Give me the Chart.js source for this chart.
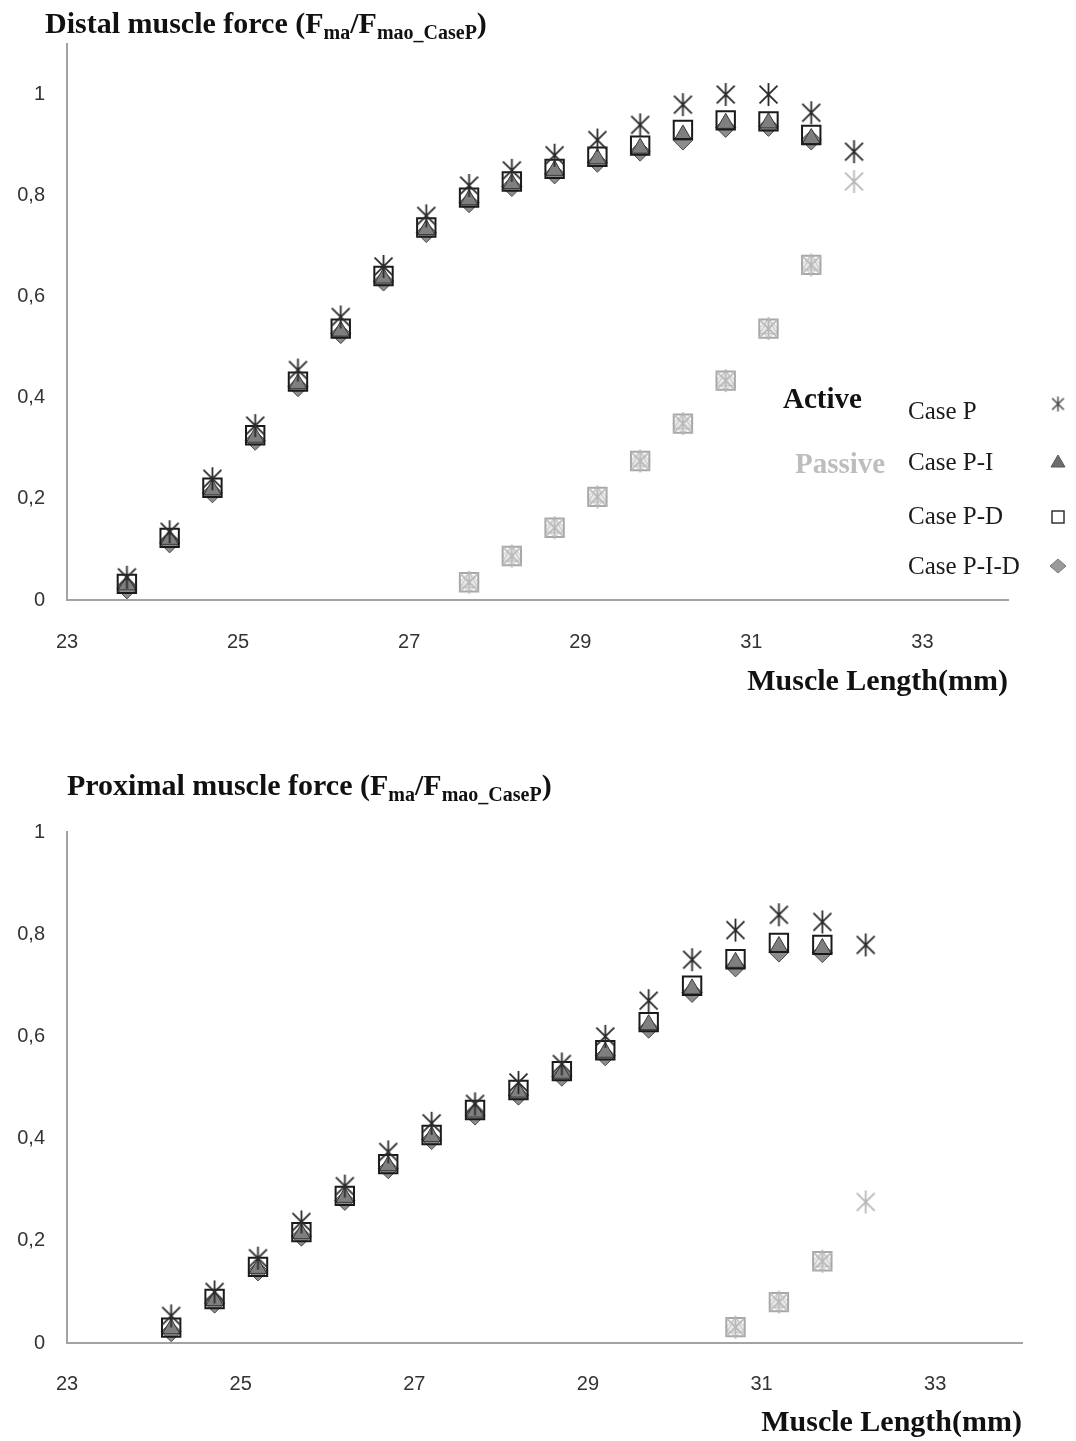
<!DOCTYPE html>
<html>
<head>
<meta charset="utf-8">
<script src="https://cdn.jsdelivr.net/npm/chart.js@4.4.1/dist/chart.umd.min.js"></script>
<style>
  body { margin: 0; background: #fff; }
  #wrap { position: relative; width: 1076px; height: 1441px; }
  .box { position: absolute; left: 0; width: 1076px; }
  .ttl {
    position: absolute; white-space: nowrap; color: #111;
    font-family: "Liberation Serif", serif; font-weight: bold; font-size: 30px; line-height: 32px;
  }
  .ttl sub { font-size: 20px; vertical-align: -6px; line-height: 0; }
</style>
</head>
<body>
<div id="wrap">
  <div class="box" style="top:0;height:720px"><canvas id="chartTop" width="1076" height="720"></canvas></div>
  <div class="box" style="top:720px;height:721px"><canvas id="chartBottom" width="1076" height="721"></canvas></div>
  <div class="ttl" style="left:45px;top:7px">Distal muscle force (F<sub>ma</sub>/F<sub>mao_CaseP</sub>)</div>
  <div class="ttl" style="left:67px;top:769px">Proximal muscle force (F<sub>ma</sub>/F<sub>mao_CaseP</sub>)</div>
</div>
<script>
// muscle length (mm)
var xTop = [23.7, 24.2, 24.7, 25.2, 25.7, 26.2, 26.7, 27.2, 27.7, 28.2, 28.7, 29.2, 29.7, 30.2, 30.7, 31.2, 31.7, 32.2];
var xTopPassive = [27.7, 28.2, 28.7, 29.2, 29.7, 30.2, 30.7, 31.2, 31.7, 32.2];
var xBottom = [24.2, 24.7, 25.2, 25.7, 26.2, 26.7, 27.2, 27.7, 28.2, 28.7, 29.2, 29.7, 30.2, 30.7, 31.2, 31.7, 32.2];
var xBottomPassive = [30.7, 31.2, 31.7, 32.2];

// distal - active
var topCaseP   = [0.045, 0.135, 0.24, 0.345, 0.455, 0.56, 0.66, 0.76, 0.82, 0.85, 0.88, 0.91, 0.94, 0.98, 1.0, 1.0, 0.964, 0.887];
var topCasePI  = [0.03, 0.12, 0.218, 0.322, 0.428, 0.532, 0.637, 0.733, 0.792, 0.824, 0.85, 0.873, 0.894, 0.92, 0.943, 0.944, 0.913];
var topCasePD  = [0.032, 0.123, 0.222, 0.326, 0.432, 0.537, 0.641, 0.737, 0.796, 0.828, 0.853, 0.877, 0.899, 0.93, 0.949, 0.947, 0.92];
var topCasePID = [0.022, 0.113, 0.212, 0.316, 0.422, 0.527, 0.631, 0.727, 0.786, 0.818, 0.843, 0.866, 0.888, 0.91, 0.935, 0.937, 0.91];
// distal - passive
var topPassiveP     = [0.035, 0.087, 0.143, 0.204, 0.275, 0.349, 0.434, 0.537, 0.663, 0.828];
var topPassiveOther = [0.035, 0.087, 0.143, 0.204, 0.275, 0.349, 0.434, 0.537, 0.663];

// proximal - active
var botCaseP   = [0.053, 0.10, 0.166, 0.237, 0.307, 0.374, 0.43, 0.468, 0.51, 0.546, 0.60, 0.67, 0.75, 0.808, 0.838, 0.824, 0.779];
var botCasePI  = [0.028, 0.083, 0.146, 0.214, 0.285, 0.347, 0.404, 0.452, 0.491, 0.528, 0.569, 0.623, 0.693, 0.745, 0.776, 0.772];
var botCasePD  = [0.03, 0.086, 0.149, 0.217, 0.288, 0.35, 0.407, 0.456, 0.495, 0.532, 0.573, 0.628, 0.699, 0.751, 0.783, 0.779];
var botCasePID = [0.022, 0.078, 0.141, 0.209, 0.279, 0.341, 0.398, 0.446, 0.485, 0.522, 0.562, 0.616, 0.686, 0.736, 0.765, 0.764];
// proximal - passive
var botPassiveP     = [0.031, 0.08, 0.16, 0.276];
var botPassiveOther = [0.031, 0.08, 0.16];

var xTicks = [23, 25, 27, 29, 31, 33];
var yTicks = [0, 0.2, 0.4, 0.6, 0.8, 1];
var caseLabels = ['Case P', 'Case P-I', 'Case P-D', 'Case P-I-D'];

// asterisk marker (excel style: vertical bar + X)
function makeStar(size, color, lw) {
  var c = document.createElement('canvas');
  c.width = c.height = size;
  var g = c.getContext('2d');
  var m = size / 2, r = size / 2 - 1, d = r * 0.78;
  g.strokeStyle = color;
  g.lineWidth = lw;
  g.beginPath();
  g.moveTo(m, m - r); g.lineTo(m, m + r);
  g.moveTo(m - d, m - d); g.lineTo(m + d, m + d);
  g.moveTo(m + d, m - d); g.lineTo(m - d, m + d);
  g.stroke();
  return c;
}
var starDark = makeStar(25, '#2b2b2b', 1.8);
var starLight = makeStar(25, '#b8b8b8', 1.8);
var starLegend = makeStar(17, '#444', 1.4);

var styles = {
  P:   { pointStyle: starDark, pointBackgroundColor: '#333', pointBorderColor: '#333', pointBorderWidth: 0, pointRadius: 12, order: 1 },
  PD:  { pointStyle: 'rect', pointBackgroundColor: 'rgba(255,255,255,0)', pointBorderColor: '#1a1a1a', pointBorderWidth: 2, pointRadius: 13, order: 2 },
  PI:  { pointStyle: 'triangle', pointBackgroundColor: '#7f7f7f', pointBorderColor: '#3a3a3a', pointBorderWidth: 1, pointRadius: 10, order: 3 },
  PID: { pointStyle: 'rectRot', pointBackgroundColor: '#8c8c8c', pointBorderColor: '#4a4a4a', pointBorderWidth: 1, pointRadius: 10, order: 4 },
  pP:   { pointStyle: starLight, pointBackgroundColor: '#bbb', pointBorderColor: '#bbb', pointBorderWidth: 0, pointRadius: 12, order: 5 },
  pPD:  { pointStyle: 'rect', pointBackgroundColor: 'rgba(255,255,255,0)', pointBorderColor: '#a8a8a8', pointBorderWidth: 2, pointRadius: 13, order: 6 },
  pPI:  { pointStyle: 'triangle', pointBackgroundColor: 'rgba(230,230,230,0.6)', pointBorderColor: '#c2c2c2', pointBorderWidth: 1, pointRadius: 10, order: 7 },
  pPID: { pointStyle: 'rectRot', pointBackgroundColor: 'rgba(220,220,220,0.6)', pointBorderColor: '#c8c8c8', pointBorderWidth: 1, pointRadius: 10, order: 8 }
};

function series(label, xs, ys, st) {
  var ds = {
    label: label,
    data: ys.map(function(y, i) { return { x: xs[i], y: y }; }),
    showLine: false
  };
  for (var k in st) ds[k] = st[k];
  ds.pointHoverRadius = ds.pointRadius;
  return ds;
}

// drawn legend for the distal chart
function legendMarker(ctx, kind, x, y) {
  ctx.save();
  if (kind === 0) {
    ctx.drawImage(starLegend, x - starLegend.width / 2, y - starLegend.height / 2);
  } else if (kind === 1) {
    ctx.beginPath();
    ctx.moveTo(x, y - 7); ctx.lineTo(x + 7, y + 5); ctx.lineTo(x - 7, y + 5); ctx.closePath();
    ctx.fillStyle = '#6e6e6e'; ctx.fill();
    ctx.strokeStyle = '#555'; ctx.lineWidth = 1; ctx.stroke();
  } else if (kind === 2) {
    ctx.fillStyle = '#fff'; ctx.fillRect(x - 6, y - 6, 12, 12);
    ctx.strokeStyle = '#333'; ctx.lineWidth = 1.5; ctx.strokeRect(x - 6, y - 6, 12, 12);
  } else {
    ctx.beginPath();
    ctx.moveTo(x, y - 7); ctx.lineTo(x + 8, y); ctx.lineTo(x, y + 7); ctx.lineTo(x - 8, y); ctx.closePath();
    ctx.fillStyle = '#9a9a9a'; ctx.fill();
    ctx.strokeStyle = '#7a7a7a'; ctx.lineWidth = 1; ctx.stroke();
  }
  ctx.restore();
}

var caseLegend = {
  id: 'caseLegend',
  afterDraw: function(chart) {
    var ctx = chart.ctx;
    var a = chart.chartArea;
    var x0 = a.right - 225;   // left of "Active"
    ctx.save();
    ctx.textBaseline = 'middle';
    ctx.font = 'bold 29px "Liberation Serif"';
    ctx.fillStyle = '#111';
    ctx.fillText('Active', x0, 401);
    ctx.fillStyle = '#bdbdbd';
    ctx.fillText('Passive', x0 + 12, 466);
    ctx.font = '25px "Liberation Serif"';
    ctx.fillStyle = '#1a1a1a';
    var rowsY = [412, 463, 517, 567];
    var mkY = [404, 462, 517, 566];
    for (var i = 0; i < caseLabels.length; i++) {
      ctx.fillText(caseLabels[i], x0 + 125, rowsY[i]);
      legendMarker(ctx, i, a.right + 50, mkY[i]);
    }
    ctx.restore();
  }
};

function makeOptions(yMax, pad, xHeight, tickPad, titlePad) {
  return {
    responsive: false,
    animation: false,
    layout: { padding: pad },
    plugins: { legend: { display: false }, tooltip: { enabled: false }, title: { display: false } },
    scales: {
      x: {
        type: 'linear',
        min: 23, max: 34,
        grid: { display: false },
        border: { display: true, color: '#a3a3a3', width: 2 },
        afterBuildTicks: function(s) { s.ticks = xTicks.map(function(v) { return { value: v }; }); },
        afterFit: function(s) { s.height = xHeight; },
        ticks: { color: '#333', padding: tickPad, maxRotation: 0, font: { family: 'Liberation Sans', size: 20 } },
        title: {
          display: true, text: 'Muscle Length(mm)', align: 'end', color: '#111',
          padding: { top: 0, bottom: titlePad },
          font: { family: 'Liberation Serif', weight: 'bold', size: 30 }
        }
      },
      y: {
        type: 'linear',
        min: 0, max: yMax,
        grid: { display: false },
        border: { display: true, color: '#a3a3a3', width: 2 },
        afterBuildTicks: function(s) { s.ticks = yTicks.map(function(v) { return { value: v }; }); },
        afterFit: function(s) { s.width = 67; },
        ticks: {
          color: '#333', padding: 14, font: { family: 'Liberation Sans', size: 20 },
          callback: function(v) { return String(v).replace('.', ','); }
        }
      }
    }
  };
}

new Chart(document.getElementById('chartTop'), {
  type: 'scatter',
  data: {
    datasets: [
      series('Case P', xTop, topCaseP, styles.P),
      series('Case P-D', xTop, topCasePD, styles.PD),
      series('Case P-I', xTop, topCasePI, styles.PI),
      series('Case P-I-D', xTop, topCasePID, styles.PID),
      series('Case P passive', xTopPassive, topPassiveP, styles.pP),
      series('Case P-D passive', xTopPassive, topPassiveOther, styles.pPD),
      series('Case P-I passive', xTopPassive, topPassiveOther, styles.pPI),
      series('Case P-I-D passive', xTopPassive, topPassiveOther, styles.pPID)
    ]
  },
  options: makeOptions(1.1, { top: 44, right: 68, left: 0, bottom: 0 }, 120, 22, 20),
  plugins: [caseLegend]
});

new Chart(document.getElementById('chartBottom'), {
  type: 'scatter',
  data: {
    datasets: [
      series('Case P', xBottom, botCaseP, styles.P),
      series('Case P-D', xBottom, botCasePD, styles.PD),
      series('Case P-I', xBottom, botCasePI, styles.PI),
      series('Case P-I-D', xBottom, botCasePID, styles.PID),
      series('Case P passive', xBottomPassive, botPassiveP, styles.pP),
      series('Case P-D passive', xBottomPassive, botPassiveOther, styles.pPD),
      series('Case P-I passive', xBottomPassive, botPassiveOther, styles.pPI),
      series('Case P-I-D passive', xBottomPassive, botPassiveOther, styles.pPID)
    ]
  },
  options: makeOptions(1, { top: 112, right: 54, left: 0, bottom: 0 }, 98, 21, 0)
});
</script>
</body>
</html>
